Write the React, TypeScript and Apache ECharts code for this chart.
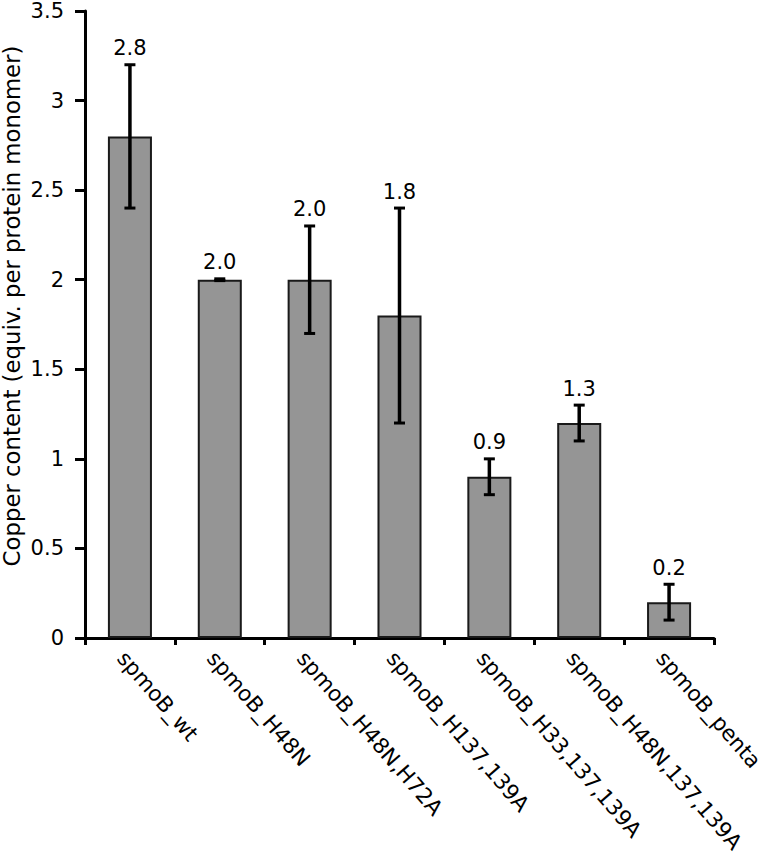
import React, { useEffect, useRef } from "react";
import * as echarts from "echarts";

const categories = [
  "spmoB_wt",
  "spmoB_H48N",
  "spmoB_H48N,H72A",
  "spmoB_H137,139A",
  "spmoB_H33,137,139A",
  "spmoB_H48N,137,139A",
  "spmoB_penta",
];
const values = [2.8, 2.0, 2.0, 1.8, 0.9, 1.2, 0.2];
const errLow = [2.4, 1.995, 1.7, 1.2, 0.8, 1.1, 0.1];
const errHigh = [3.2, 2.005, 2.3, 2.4, 1.0, 1.3, 0.3];
const valueLabels = ["2.8", "2.0", "2.0", "1.8", "0.9", "1.3", "0.2"];
const yTicks = { min: 0, max: 3.5, interval: 0.5 };
const yTitle = "Copper content (equiv. per protein monomer)";

const FONT = "DejaVu Sans, Verdana, sans-serif";

export default function App() {
  const ref = useRef<HTMLDivElement>(null);
  useEffect(() => {
    if (!ref.current) return;
    const chart = echarts.init(ref.current, undefined, { renderer: "svg" });
    const errData = categories.map((_, i) => [i, errLow[i], errHigh[i]]);
    chart.setOption({
      animation: false,
      backgroundColor: "#ffffff",
      grid: {
        left: 85,
        right: 51,
        top: 11,
        bottom: 225,
        containLabel: false,
        outerBoundsMode: "none",
      },
      graphic: [
        {
          type: "text",
          x: 12,
          y: 306,
          rotation: Math.PI / 2,
          style: {
            text: yTitle,
            fill: "#000",
            fontSize: 22.8,
            fontFamily: FONT,
            textAlign: "center",
            textVerticalAlign: "middle",
          },
        },
      ],
      xAxis: {
        type: "category",
        data: categories,
        axisLine: { lineStyle: { color: "#000", width: 3 } },
        axisTick: { show: true, length: 7, lineStyle: { color: "#000", width: 3 } },
        axisLabel: {
          rotate: -49,
          interval: 0,
          margin: 9,
          align: "left",
          verticalAlign: "top",
          color: "#000",
          fontSize: 21.5,
          fontFamily: FONT,
        },
      },
      yAxis: {
        type: "value",
        min: yTicks.min,
        max: yTicks.max,
        interval: yTicks.interval,
        axisLine: { show: true, lineStyle: { color: "#000", width: 3 } },
        axisTick: { show: true, length: 10, lineStyle: { color: "#000", width: 3 } },
        axisLabel: {
          margin: 21,
          color: "#000",
          fontSize: 21,
          lineHeight: 20,
          fontFamily: FONT,
          formatter: (v: number) => String(v),
        },
        splitLine: { show: false },
      },
      series: [
        {
          type: "bar",
          data: values,
          barWidth: "49%",
          itemStyle: { color: "#959595", borderColor: "#1a1a1a", borderWidth: 2 },
        },
        {
          type: "custom",
          data: errData,
          z: 10,
          renderItem: (params: any, api: any) => {
            const x = api.value(0);
            const lo = api.coord([x, api.value(1)]);
            const hi = api.coord([x, api.value(2)]);
            const cx = lo[0];
            const cap = 5.5;
            const style = { stroke: "#000", lineWidth: 3.5 };
            const capStyle = { stroke: "#000", lineWidth: 3 };
            return {
              type: "group",
              children: [
                { type: "line", shape: { x1: cx, y1: lo[1], x2: cx, y2: hi[1] }, style },
                { type: "line", shape: { x1: cx - cap, y1: lo[1], x2: cx + cap, y2: lo[1] }, style: capStyle },
                { type: "line", shape: { x1: cx - cap, y1: hi[1], x2: cx + cap, y2: hi[1] }, style: capStyle },
                {
                  type: "text",
                  style: {
                    x: cx,
                    y: hi[1] - 6,
                    text: valueLabels[params.dataIndex],
                    textAlign: "center",
                    textVerticalAlign: "bottom",
                    fill: "#000",
                    fontSize: 21,
                    fontFamily: FONT,
                  },
                },
              ],
            };
          },
        },
      ],
    });
    return () => chart.dispose();
  }, []);
  return (
    <div
      ref={ref}
      style={{ position: "absolute", left: 0, top: 0, width: 765, height: 863 }}
    />
  );
}
